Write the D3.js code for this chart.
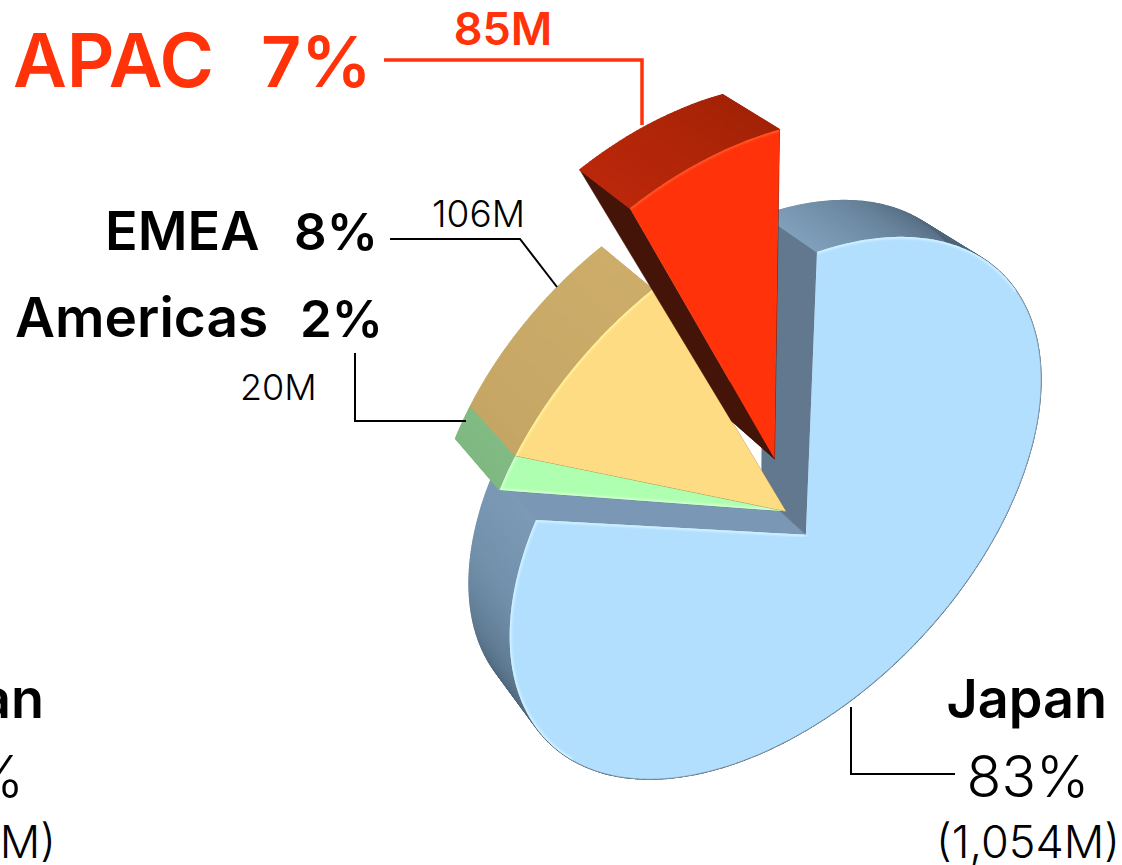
<!DOCTYPE html>
<html>
<head>
<meta charset="utf-8">
<script src="https://cdnjs.cloudflare.com/ajax/libs/d3/7.8.5/d3.min.js"></script>
<style>
html, body { margin: 0; padding: 0; background: #fff; overflow: hidden; }
svg { display: block; }
text { font-family: Inter, "Liberation Sans", sans-serif; }
.light { font-weight: 300; }
.bold { font-weight: 600; }
</style>
</head>
<body>
<div id="chart"></div>
<script>
// data
var regions = ["Japan", "Americas", "EMEA", "APAC"];
var revenue = [1054, 20, 106, 85];
var shareLabels = ["83%", "2%", "8%", "7%"];
var revenueLabels = ["(1,054M)", "20M", "106M", "85M"];

// look of each slice
var faceColors = ["#b3dfff", "#aeffb0", "#fedc84", "#ff320a"];
var edgeLights = ["#d2f4ff", "#d6ffd8", "#fff59c", "#ff5a2a"];
var firstWall = ["#62788e", "#5d8f60", "#a88b50", "#451408"];
var lastWall = ["#7a97b5", "#5d8f60", "#a88b50", "#451408"];
var rimStops = [
  [[0, 25, 50, 235, 255, 285, 300], ["#7f9fbb", "#5f788f", "#4a5e72", "#2a3640", "#4e667a", "#7290ab", "#7b9ab6"]],
  [[300, 306], ["#7fb981", "#82bb84"]],
  [[306, 336], ["#c6a665", "#cdad69"]],
  [[336, 360], ["#bb270a", "#a32307"]]
];
var pushAngle = [0, 330, 330, 341];
var pushDist = [0, 0.16, 0.16, 0.385];
var depth = [0.042, 0.046, 0.046, 0.046];
var apexDepth = 0.035;

var width = 1122, height = 865;
var red = "#ff3209";

var svg = d3.select("#chart").append("svg")
            .attr("width", width)
            .attr("height", height);

var defs = svg.append("defs");
defs.append("filter").attr("id", "soft")
    .append("feGaussianBlur").attr("stdDeviation", 0.9);

var pie = d3.pie().sort(null).startAngle(0).endAngle(2 * Math.PI);
var arcs = pie(revenue);

function planePoint(a, r) {
  return [r * Math.sin(a), -r * Math.cos(a)];
}

// solves the 4 point perspective of the pie plane
function solve(A, b) {
  var n = b.length;
  for (var i = 0; i < n; i++) {
    var p = i;
    for (var k = i + 1; k < n; k++) if (Math.abs(A[k][i]) > Math.abs(A[p][i])) p = k;
    var t = A[i]; A[i] = A[p]; A[p] = t;
    t = b[i]; b[i] = b[p]; b[p] = t;
    for (k = i + 1; k < n; k++) {
      var f = A[k][i] / A[i][i];
      for (var j = i; j < n; j++) A[k][j] -= f * A[i][j];
      b[k] -= f * b[i];
    }
  }
  var x = new Array(n);
  for (i = n - 1; i >= 0; i--) {
    var s = b[i];
    for (j = i + 1; j < n; j++) s -= A[i][j] * x[j];
    x[i] = s / A[i][i];
  }
  return x;
}

var japanEnd = arcs[0].endAngle;
var anchors = [
  [planePoint(0, 1), [817, 252]],
  [planePoint(Math.PI, 1), [798, 735]],
  [planePoint(japanEnd, 1), [536, 520]],
  [planePoint(japanEnd - Math.PI, 1), [990, 545]]
];
var M = [], rhs = [];
anchors.forEach(function(c) {
  var x = c[0][0], y = c[0][1], X = c[1][0], Y = c[1][1];
  M.push([x, y, 1, 0, 0, 0, -x * X, -y * X]); rhs.push(X);
  M.push([0, 0, 0, x, y, 1, -x * Y, -y * Y]); rhs.push(Y);
});
var H = solve(M, rhs);

function project(p) {
  var w = H[6] * p[0] + H[7] * p[1] + 1;
  return [(H[0] * p[0] + H[1] * p[1] + H[2]) / w,
          (H[3] * p[0] + H[4] * p[1] + H[5]) / w];
}

// the depth lines all run to this point
var vanish = [-460, -630];
function back(p, f) {
  return [p[0] + f * (vanish[0] - p[0]), p[1] + f * (vanish[1] - p[1])];
}

function facePoint(i, a, r) {
  var off = planePoint(pushAngle[i] * Math.PI / 180, pushDist[i]);
  var p = planePoint(a, r);
  return project([p[0] + off[0], p[1] + off[1]]);
}

function anglesOf(d, from, to) {
  var s = from === undefined ? d.startAngle : from;
  var e = to === undefined ? d.endAngle : to;
  var list = d3.range(s, e, 0.01);
  list.push(e);
  return list;
}

var line = d3.line();

function polygon(g, pts, fill, sw) {
  g.append("path")
   .attr("d", line(pts) + "Z")
   .attr("fill", fill)
   .attr("stroke", fill)
   .attr("stroke-width", sw)
   .attr("stroke-linejoin", "round");
}

var slices = svg.selectAll("g.slice")
                .data(arcs)
                .enter().append("g")
                .attr("class", "slice");

slices.each(function(d, i) {
  var g = d3.select(this);
  var apex = facePoint(i, 0, 0);
  var first = facePoint(i, d.startAngle, 1);
  var last = facePoint(i, d.endAngle, 1);
  var apexBack = back(apex, apexDepth);

  // radial walls
  polygon(g, [apex, last, back(last, depth[i]), apexBack], lastWall[i], 0.6);
  polygon(g, [apex, first, back(first, depth[i]), apexBack], firstWall[i], 0.6);

  // outer wall, one narrow strip per step
  var shade = d3.scaleLinear()
                .domain(rimStops[i][0].map(function(v) { return v * Math.PI / 180; }))
                .range(rimStops[i][1])
                .interpolate(d3.interpolateRgb)
                .clamp(true);
  var steps = anglesOf(d);
  d3.pairs(steps).forEach(function(s) {
    var a = facePoint(i, s[0], 1), b = facePoint(i, s[1], 1);
    polygon(g, [a, b, back(b, depth[i]), back(a, depth[i])], shade((s[0] + s[1]) / 2), 1.2);
  });

  // front face
  var rim = steps.map(function(a) { return facePoint(i, a, 1); });
  var facePts = [apex].concat(rim);
  g.append("path")
   .attr("d", line(facePts) + "Z")
   .attr("fill", faceColors[i]);

  // soft lit edge on the sides that face the walls
  var clipId = "clip" + i;
  defs.append("clipPath").attr("id", clipId)
      .append("path").attr("d", line(facePts) + "Z");
  var lit = g.append("g").attr("clip-path", "url(#" + clipId + ")");
  var litPaths = [];
  if (i === 0) {
    litPaths.push(anglesOf(d, d.startAngle, 0.9).map(function(a) { return facePoint(i, a, 1); }));
    litPaths.push(anglesOf(d, 4.2, d.endAngle).map(function(a) { return facePoint(i, a, 1); }));
    litPaths.push([apex, last]);
    // thin grey line along the lower right rim
    g.append("path")
     .attr("d", line(anglesOf(d, 0.9, 4.2).map(function(a) { return facePoint(i, a, 1); })))
     .attr("fill", "none")
     .attr("stroke", "#8da6ba")
     .attr("stroke-width", 0.8);
  } else {
    litPaths.push(rim);
  }
  if (i === 1) litPaths.push([first, apex]);
  litPaths.forEach(function(pts) {
    lit.append("path")
       .attr("d", line(pts))
       .attr("fill", "none")
       .attr("stroke", edgeLights[i])
       .attr("stroke-width", 3.5)
       .attr("filter", "url(#soft)");
  });
});

// leader lines
function leader(pts, color, w) {
  svg.append("path")
     .attr("d", line(pts))
     .attr("fill", "none")
     .attr("stroke", color)
     .attr("stroke-width", w);
}
leader([[384, 60], [642, 60], [642, 125]], red, 3.5);
leader([[390, 239], [520, 239], [557, 287]], "#000", 2);
leader([[355, 353], [355, 421], [466, 421]], "#000", 2);
leader([[851, 707], [851, 774], [955, 774]], "#000", 2);

function label(txt, x, y, size, cls, color, anchor) {
  svg.append("text")
     .attr("x", x)
     .attr("y", y)
     .attr("font-size", size)
     .attr("class", cls)
     .attr("fill", color || "#000")
     .attr("text-anchor", anchor || "start")
     .text(txt);
}

label(regions[3], 13, 87, 74, "bold", red);
label(shareLabels[3], 261, 87, 70, "bold", red);
label(revenueLabels[3], 503, 45, 45, "bold", red, "middle");

label(regions[2], 105, 250, 54, "bold");
label(shareLabels[2], 294, 250, 51, "bold");
label(revenueLabels[2], 432, 227, 37, "light");

label(regions[1], 15, 337, 55, "bold");
label(shareLabels[1], 300, 337, 51, "bold");
label(revenueLabels[1], 240, 400, 36, "light");

label(regions[0], 1107, 718, 54, "bold", "#000", "end");
label(shareLabels[0], 1028, 797, 57, "light", "#000", "middle");
label(revenueLabels[0], 1120, 858, 45, "light", "#000", "end");

// second pie's labels, cut off by the left edge of the picture
label(regions[0], 44, 718, 54, "bold", "#000", "end");
label(shareLabels[0], 24, 797, 57, "light", "#000", "end");
label("(1,050M)", 56, 858, 45, "light", "#000", "end");
</script>
</body>
</html>
